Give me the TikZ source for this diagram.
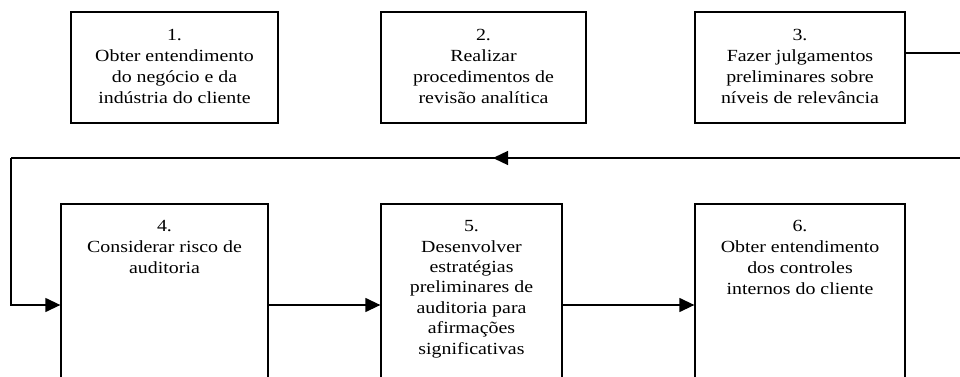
\documentclass[tikz,border=0pt]{standalone}
\usepackage{fontspec}
\setmainfont[FakeStretch=1.17]{Liberation Serif}
\usetikzlibrary{arrows.meta}
\tikzset{
  flowbox/.style={draw=black, line width=1.3pt, rectangle, inner sep=0pt, fill=white},
  flowtxt/.style={align=center, inner sep=0pt, anchor=north, font=\fontsize{17pt}{21pt}\selectfont},
  conn/.style={line width=1.3pt, draw=black},
  tip/.style={-{Triangle[length=15pt,width=14pt]}}
}
\begin{document}
\begin{tikzpicture}[x=1pt,y=-1pt]
\useasboundingbox (0,0) rectangle (960,377);
\clip (0,0) rectangle (960,377);
\fill[white] (0,0) rectangle (960,377);
% top row
\node[flowbox, minimum width=207pt, minimum height=111pt] (b1) at (174.5,67.5) {};
\node[flowbox, minimum width=205pt, minimum height=111pt] (b2) at (483.5,67.5) {};
\node[flowbox, minimum width=210pt, minimum height=111pt] (b3) at (800,67.5) {};
% bottom row
\node[flowbox, minimum width=207pt, minimum height=216pt] (b4) at (164.5,312) {};
\node[flowbox, minimum width=181pt, minimum height=216pt] (b5) at (471.5,312) {};
\node[flowbox, minimum width=210pt, minimum height=216pt] (b6) at (800,312) {};
% texts
\node[flowtxt] (t1) at ([yshift=-18pt]b1.north) {1.\\Obter entendimento\\do negócio e da\\indústria do cliente};
\node[flowtxt] (t2) at ([yshift=-18pt]b2.north) {2.\\Realizar\\procedimentos de\\revisão analítica};
\node[flowtxt] (t3) at ([yshift=-18pt]b3.north) {3.\\Fazer julgamentos\\preliminares sobre\\níveis de relevância};
\node[flowtxt] (t4) at ([yshift=-17pt]b4.north) {4.\\Considerar risco de\\auditoria};
\node[flowtxt, font=\fontsize{17pt}{20.4pt}\selectfont] (t5) at ([yshift=-17pt]b5.north) {5.\\Desenvolver\\estratégias\\preliminares de\\auditoria para\\afirmações\\significativas};
\node[flowtxt] (t6) at ([yshift=-17pt]b6.north) {6.\\Obter entendimento\\dos controles\\internos do cliente};
% connectors
\coordinate (r1) at (970,53);
\coordinate (r2) at (970,158);
\coordinate (m) at (493,158);
\coordinate (l1) at (11,158);
\coordinate (row) at (0,305);
\draw[conn] (b3.east |- r1) -- (r1) -- (r2) -- (l1);
\draw[conn, tip] (r2) -- (m);
\draw[conn, tip] (l1) |- (b4.west |- row);
\draw[conn, tip] (b4.east |- row) -- (b5.west |- row);
\draw[conn, tip] (b5.east |- row) -- (b6.west |- row);
\end{tikzpicture}
\end{document}
